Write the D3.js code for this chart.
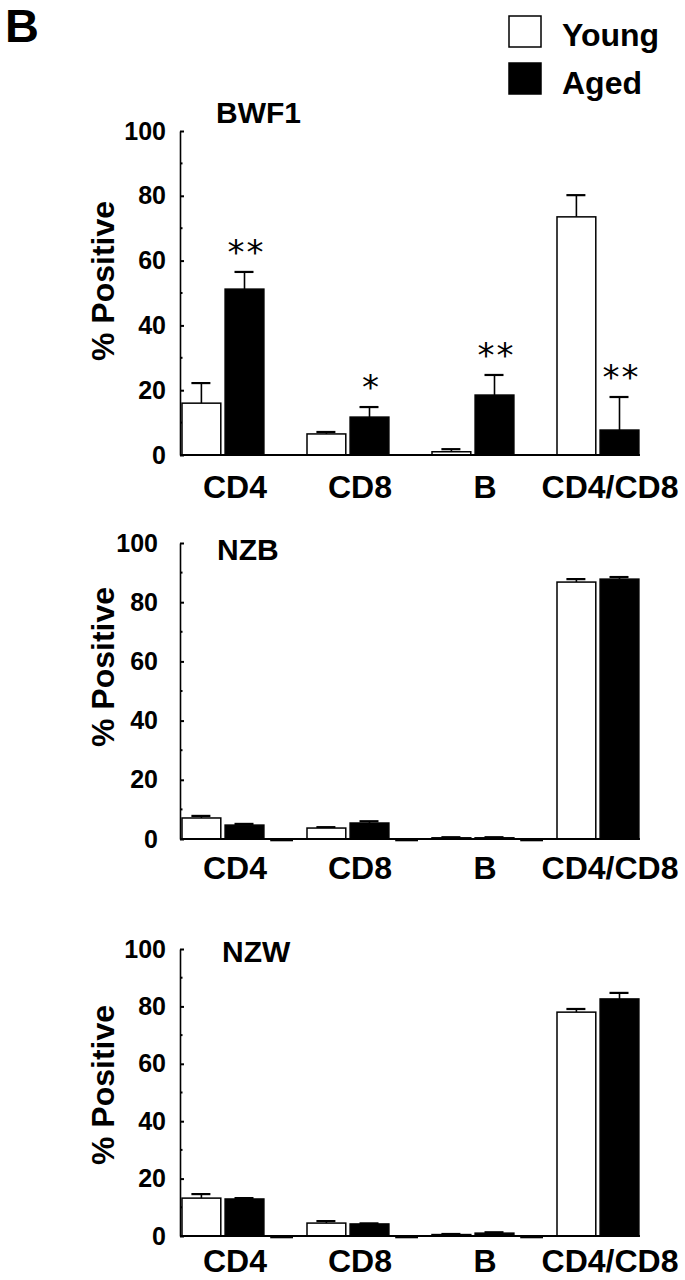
<!DOCTYPE html>
<html>
<head>
<meta charset="utf-8">
<script src="https://cdn.jsdelivr.net/npm/d3@7"></script>
<style>
html,body{margin:0;padding:0;background:#fff;}
svg{display:block;}
</style>
</head>
<body>
<svg id="chart" width="685" height="1280"></svg>
<script>
// ---------- data ----------
const categories = ["CD4", "CD8", "B", "CD4/CD8"];
const seriesNames = ["Young", "Aged"];
const strains = ["BWF1", "NZB", "NZW"];
const yTicks = [0, 20, 40, 60, 80, 100];
const yMinorTicks = [10, 30, 50, 70, 90];

const bwf1Young    = [16.0, 6.5, 1.0, 73.5];
const bwf1YoungSem = [6.2, 0.6, 0.8, 6.7];
const bwf1Aged     = [51.2, 11.7, 18.5, 7.7];
const bwf1AgedSem  = [5.3, 3.1, 6.2, 10.2];
const bwf1Sig      = ["**", "*", "**", "**"];

const nzbYoung     = [7.1, 3.7, 0.4, 86.8];
const nzbYoungSem  = [0.7, 0.3, 0.2, 1.0];
const nzbAged      = [4.7, 5.4, 0.4, 87.8];
const nzbAgedSem   = [0.4, 0.6, 0.2, 0.7];

const nzwYoung     = [13.2, 4.5, 0.5, 78.0];
const nzwYoungSem  = [1.4, 0.7, 0.2, 1.1];
const nzwAged      = [12.9, 4.2, 1.0, 82.6];
const nzwAgedSem   = [0.3, 0.2, 0.3, 2.1];

const yAxisTitle = "% Positive";
const panelLetter = "B";

// ---------- layout (positions only) ----------
const panels = [
  {name: strains[0], young: bwf1Young, youngSem: bwf1YoungSem, aged: bwf1Aged, agedSem: bwf1AgedSem, sig: bwf1Sig,
   y0: 455, y100: 131, titleX: 216, titleY: 123, tickOff: 10, labelY: 498, yTitleY: 281, gapMarks: false},
  {name: strains[1], young: nzbYoung, youngSem: nzbYoungSem, aged: nzbAged, agedSem: nzbAgedSem, sig: null,
   y0: 839, y100: 543, titleX: 217, titleY: 560, tickOff: 18, labelY: 879, yTitleY: 667, gapMarks: true},
  {name: strains[2], young: nzwYoung, youngSem: nzwYoungSem, aged: nzwAged, agedSem: nzwAgedSem, sig: null,
   y0: 1236, y100: 949, titleX: 222, titleY: 962, tickOff: 10, labelY: 1272, yTitleY: 1085, gapMarks: true}
];

const FONT = "Liberation Sans, Arial, Helvetica, sans-serif";
const axisX = 180;
const svg = d3.select("#chart");

function txt(sel, size, weight) {
  return sel.style("font-family", FONT).style("font-weight", weight || "bold")
    .style("font-size", size + "px").style("fill", "#000");
}

const x = d3.scaleBand().domain(categories).range([182, 182 + 125 * categories.length]).paddingInner(0).paddingOuter(0);
const xSub = d3.scaleBand().domain([...seriesNames, "gap"]).range([0, x.bandwidth()]).paddingInner(0.1).paddingOuter(0);
const color = d3.scaleOrdinal().domain(seriesNames).range(["#fff", "#000"]);

// panel letter
txt(svg.append("text").attr("x", 5).attr("y", 42), 47).text(panelLetter);

// legend
const leg = svg.append("g");
seriesNames.forEach((s, i) => {
  leg.append("rect").attr("x", 509).attr("y", 16 + i * 47).attr("width", 32).attr("height", 31)
    .attr("fill", color(s)).attr("stroke", "#000").attr("stroke-width", 1.5);
  txt(leg.append("text").attr("x", 562).attr("y", 46 + i * 48), 32).text(s);
});

panels.forEach(p => {
  const g = svg.append("g");
  const y = d3.scaleLinear().domain([0, 100]).range([p.y0, p.y100]);

  // title
  txt(g.append("text").attr("x", p.titleX).attr("y", p.titleY), 30).text(p.name);

  // y axis title
  txt(g.append("text")
    .attr("transform", `translate(114,${p.yTitleY}) rotate(-90)`)
    .attr("text-anchor", "middle"), 32).text(yAxisTitle);

  // y axis
  const yAxis = d3.axisLeft(y).tickValues(yTicks).tickSizeInner(-4).tickSizeOuter(0).tickPadding(p.tickOff + 4)
    .tickFormat(d3.format("d"));
  const ga = g.append("g").attr("transform", `translate(${axisX},0)`).call(yAxis);
  ga.select(".domain").attr("stroke", "#000").attr("stroke-width", 1.6);
  ga.selectAll(".tick line").attr("stroke", "#000").attr("stroke-width", 2);
  txt(ga.selectAll(".tick text"), 25);
  // minor ticks
  g.selectAll(".minor").data(yMinorTicks).join("line")
    .attr("x1", axisX).attr("x2", axisX + 2.5).attr("y1", d => y(d)).attr("y2", d => y(d))
    .attr("stroke", "#000").attr("stroke-width", 2);

  // rows
  const rows = [];
  categories.forEach((c, i) => {
    rows.push({cat: c, series: seriesNames[0], v: p.young[i], sem: p.youngSem[i], sig: null});
    rows.push({cat: c, series: seriesNames[1], v: p.aged[i], sem: p.agedSem[i], sig: p.sig ? p.sig[i] : null});
  });
  const cx = d => x(d.cat) + xSub(d.series) + xSub.bandwidth() / 2;

  // error bars
  const eb = g.selectAll(".eb").data(rows).join("g");
  eb.append("line")
    .attr("x1", cx).attr("x2", cx)
    .attr("y1", d => y(d.v)).attr("y2", d => y(d.v + d.sem))
    .attr("stroke", "#000").attr("stroke-width", 1.6);
  eb.append("line")
    .attr("x1", d => cx(d) - 10).attr("x2", d => cx(d) + 9)
    .attr("y1", d => y(d.v + d.sem)).attr("y2", d => y(d.v + d.sem))
    .attr("stroke", "#000").attr("stroke-width", 2.2);

  // bars
  g.selectAll(".bar").data(rows).join("rect")
    .attr("x", d => x(d.cat) + xSub(d.series))
    .attr("y", d => y(d.v))
    .attr("width", xSub.bandwidth())
    .attr("height", d => y(0) - y(d.v))
    .attr("fill", d => color(d.series))
    .attr("stroke", "#000").attr("stroke-width", 1.5);

  // significance marks
  g.selectAll(".sig").data(rows.filter(d => d.sig)).join("text")
    .attr("x", d => cx(d) + 2)
    .attr("y", d => y(d.v + d.sem) - 8)
    .attr("text-anchor", "middle")
    .style("font-family", "DejaVu Sans, sans-serif").style("font-weight", "normal")
    .style("font-size", "34px").style("letter-spacing", "2px").style("fill", "#000")
    .text(d => d.sig);

  // spacer marks between groups
  if (p.gapMarks) {
    g.selectAll(".gap").data(categories.slice(0, -1)).join("line")
      .attr("x1", d => x(d) + xSub("gap") + 2).attr("x2", d => x(d) + xSub("gap") + xSub.bandwidth() - 14)
      .attr("y1", y(0) + 0.8).attr("y2", y(0) + 0.8)
      .attr("stroke", "#000").attr("stroke-width", 3);
  }

  // baseline
  const lastCat = categories[categories.length - 1];
  g.append("line").attr("x1", axisX).attr("x2", x(lastCat) + xSub(seriesNames[1]) + xSub.bandwidth() + 1)
    .attr("y1", y(0)).attr("y2", y(0)).attr("stroke", "#000").attr("stroke-width", 2);

  // category labels
  txt(g.selectAll(".cat").data(categories).join("text")
    .attr("x", d => x(d) + 53).attr("y", p.labelY)
    .attr("text-anchor", "middle"), 32)
    .text(d => d);
});
</script>
</body>
</html>
